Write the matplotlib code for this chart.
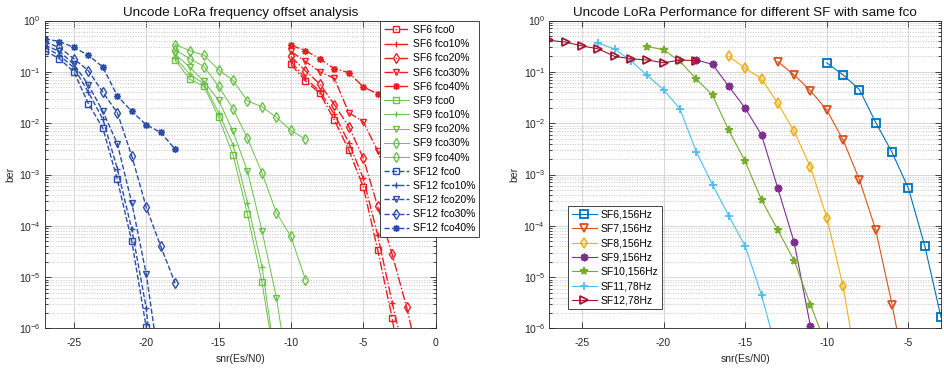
import matplotlib
matplotlib.use('Agg')
import matplotlib.pyplot as plt
from matplotlib.ticker import LogLocator, NullFormatter, FixedLocator

plt.rcParams['font.family'] = ['Liberation Sans', 'DejaVu Sans']
plt.rcParams['mathtext.fontset'] = 'custom'
plt.rcParams['mathtext.rm'] = 'Liberation Sans'
plt.rcParams['axes.unicode_minus'] = False

# ---- left chart: frequency offset analysis ----
snr_sf6_fco0 = [-10, -9, -8, -7, -6, -5, -4, -3, -2]
ber_sf6_fco0 = [0.14, 0.067, 0.038, 0.0116, 0.003, 5.8e-4, 3.4e-5, 1.6e-6, 3e-8]
snr_sf6_fco10 = [-10, -9, -8, -7, -6, -5, -4, -3, -2]
ber_sf6_fco10 = [0.16, 0.075, 0.042, 0.015, 0.0042, 8.5e-4, 6.6e-5, 3.2e-6, 2e-7]
snr_sf6_fco20 = [-10, -9, -8, -7, -6, -5, -4, -3, -2, -1]
ber_sf6_fco20 = [0.2, 0.105, 0.058, 0.023, 0.0086, 0.0021, 2.4e-4, 2.8e-5, 2.6e-6, 1.5e-7]
snr_sf6_fco30 = [-10, -9, -8, -7, -6, -5, -4, -3]
ber_sf6_fco30 = [0.25, 0.16, 0.1, 0.075, 0.016, 0.0107, 0.0029, 4e-4]
snr_sf6_fco40 = [-10, -9, -8, -7, -6, -5, -4, -3, -2]
ber_sf6_fco40 = [0.33, 0.26, 0.18, 0.115, 0.097, 0.051, 0.037, 0.025, 0.016]

snr_sf9_fco0 = [-18, -17, -16, -15, -14, -13, -12, -11]
ber_sf9_fco0 = [0.17, 0.072, 0.052, 0.013, 0.0024, 1.7e-4, 7.9e-6, 1.5e-7]
snr_sf9_fco10 = [-18, -17, -16, -15, -14, -13, -12, -11]
ber_sf9_fco10 = [0.19, 0.09, 0.058, 0.016, 0.0038, 2.8e-4, 1.6e-5, 1.8e-7]
snr_sf9_fco20 = [-18, -17, -16, -15, -14, -13, -12, -11, -10]
ber_sf9_fco20 = [0.22, 0.124, 0.065, 0.028, 0.0069, 1.15e-3, 8e-5, 4e-6, 6e-8]
snr_sf9_fco30 = [-18, -17, -16, -15, -14, -13, -12, -11, -10, -9]
ber_sf9_fco30 = [0.27, 0.18, 0.127, 0.052, 0.019, 0.0051, 1.07e-3, 1.8e-4, 6.2e-5, 9e-6]
snr_sf9_fco40 = [-18, -17, -16, -15, -14, -13, -12, -11, -10, -9]
ber_sf9_fco40 = [0.34, 0.26, 0.21, 0.11, 0.068, 0.027, 0.021, 0.013, 0.0072, 0.0049]

snr_sf12_fco0 = [-27, -26, -25, -24, -23, -22, -21, -20]
ber_sf12_fco0 = [0.26, 0.18, 0.1, 0.024, 0.008, 8e-4, 5e-5, 1.05e-6]
snr_sf12_fco10 = [-27, -26, -25, -24, -23, -22, -21, -20, -19]
ber_sf12_fco10 = [0.3, 0.21, 0.12, 0.04, 0.012, 1.3e-3, 8.5e-5, 2.5e-6, 5e-9]
snr_sf12_fco20 = [-27, -26, -25, -24, -23, -22, -21, -20, -19]
ber_sf12_fco20 = [0.33, 0.25, 0.14, 0.056, 0.017, 0.004, 2.8e-4, 1.15e-5, 1.3e-7]
snr_sf12_fco30 = [-27, -26, -25, -24, -23, -22, -21, -20, -19, -18]
ber_sf12_fco30 = [0.38, 0.3, 0.18, 0.105, 0.04, 0.016, 0.0023, 2.3e-4, 4e-5, 7.6e-6]
snr_sf12_fco40 = [-27, -26, -25, -24, -23, -22, -21, -20, -19, -18]
ber_sf12_fco40 = [0.44, 0.39, 0.30, 0.21, 0.124, 0.034, 0.017, 0.0093, 0.0066, 0.0031]

left_labels = ['SF6 fco0', 'SF6 fco10%', 'SF6 fco20%', 'SF6 fco30%', 'SF6 fco40%',
               'SF9 fco0', 'SF9 fco10%', 'SF9 fco20%', 'SF9 fco30%', 'SF9 fco40%',
               'SF12 fco0', 'SF12 fco10%', 'SF12 fco20%', 'SF12 fco30%', 'SF12 fco40%']

# ---- right chart: different SF with same fco ----
snr_r6 = [-10, -9, -8, -7, -6, -5, -4, -3]
ber_r6 = [0.15, 0.087, 0.045, 0.0103, 0.0027, 5.4e-4, 4.1e-5, 1.65e-6]
snr_r7 = [-13, -12, -11, -10, -9, -8, -7, -6, -5]
ber_r7 = [0.158, 0.087, 0.043, 0.018, 0.0047, 7.9e-4, 8.3e-5, 2.9e-6, 6.6e-8]
snr_r8 = [-16, -15, -14, -13, -12, -11, -10, -9, -8]
ber_r8 = [0.2, 0.118, 0.073, 0.0245, 0.0069, 0.0014, 1.45e-4, 6.6e-6, 9e-8]
snr_r9 = [-18, -17, -16, -15, -14, -13, -12, -11, -10]
ber_r9 = [0.17, 0.14, 0.052, 0.0196, 0.0059, 5.4e-4, 4.8e-5, 1.1e-6, 2.5e-8]
snr_r10 = [-21, -20, -19, -18, -17, -16, -15, -14, -13, -12, -11, -10]
ber_r10 = [0.31, 0.27, 0.16, 0.073, 0.035, 0.0072, 0.0018, 3.2e-4, 8.3e-5, 2.1e-5, 2.9e-6, 4.4e-7]
snr_r11 = [-24, -23, -22, -21, -20, -19, -18, -17, -16, -15, -14, -13]
ber_r11 = [0.36, 0.28, 0.164, 0.085, 0.045, 0.019, 0.0028, 6.3e-4, 1.56e-4, 4e-5, 4.5e-6, 3e-7]
snr_r12 = [-27, -26, -25, -24, -23, -22, -21, -20, -19, -18]
ber_r12 = [0.41, 0.38, 0.32, 0.28, 0.2, 0.18, 0.17, 0.15, 0.17, 0.165]

right_labels = ['SF6,156Hz', 'SF7,156Hz', 'SF8,156Hz', 'SF9,156Hz',
                'SF10,156Hz', 'SF11,78Hz', 'SF12,78Hz']

ber_ticks = [1e-6, 1e-5, 1e-4, 1e-3, 1e-2, 1e-1, 1]

RED = '#ee1d23'
GREEN = '#6cc04a'
BLUE = '#2b4ea6'
ASTERISK = (8, 2, 0)


def style_axes(ax, xlim, xticks):
    ax.set_yscale('log')
    ax.set_xlim(*xlim)
    ax.set_ylim(1e-6, 1)
    ax.xaxis.set_major_locator(FixedLocator(xticks))
    ax.yaxis.set_major_locator(FixedLocator(ber_ticks))
    ax.yaxis.set_minor_locator(LogLocator(base=10, subs=range(2, 10), numticks=10))
    ax.yaxis.set_minor_formatter(NullFormatter())
    ax.grid(which='major', color='#d6d6d6', linestyle='-', linewidth=0.7)
    ax.grid(which='minor', axis='y', color='#c4c4c4', linestyle=':', linewidth=0.7)
    ax.set_axisbelow(True)
    ax.tick_params(which='both', direction='in', top=True, right=True,
                   colors='#262626', labelsize=7.5, width=0.6)
    ax.tick_params(which='major', length=4)
    ax.tick_params(which='minor', length=2)
    ax.tick_params(axis='x', pad=6.5)
    ax.tick_params(axis='y', pad=3)
    for s in ax.spines.values():
        s.set_color('#262626')
        s.set_linewidth(0.6)
    ax.set_xlabel('snr(Es/N0)', fontsize=7.5, labelpad=5, color='#262626')
    ax.set_ylabel('ber', fontsize=7.5, labelpad=3, color='#262626')


fig = plt.figure(figsize=(9.45, 3.69), dpi=100)
ax1 = fig.add_axes([0.0476, 0.1098, 0.4133, 0.8346])
ax2 = fig.add_axes([0.5813, 0.1098, 0.4145, 0.8346])

left_series = [
    (snr_sf6_fco0, ber_sf6_fco0, RED, '-.', 's'),
    (snr_sf6_fco10, ber_sf6_fco10, RED, '-.', '+'),
    (snr_sf6_fco20, ber_sf6_fco20, RED, '-.', 'd'),
    (snr_sf6_fco30, ber_sf6_fco30, RED, '-.', 'v'),
    (snr_sf6_fco40, ber_sf6_fco40, RED, '-.', ASTERISK),
    (snr_sf9_fco0, ber_sf9_fco0, GREEN, '-', 's'),
    (snr_sf9_fco10, ber_sf9_fco10, GREEN, '-', '+'),
    (snr_sf9_fco20, ber_sf9_fco20, GREEN, '-', 'v'),
    (snr_sf9_fco30, ber_sf9_fco30, GREEN, '-', 'd'),
    (snr_sf9_fco40, ber_sf9_fco40, GREEN, '-', 'd'),
    (snr_sf12_fco0, ber_sf12_fco0, BLUE, '--', 's'),
    (snr_sf12_fco10, ber_sf12_fco10, BLUE, '--', '+'),
    (snr_sf12_fco20, ber_sf12_fco20, BLUE, '--', 'v'),
    (snr_sf12_fco30, ber_sf12_fco30, BLUE, '--', 'd'),
    (snr_sf12_fco40, ber_sf12_fco40, BLUE, '--', ASTERISK),
]
for (x, y, c, ls, m), lab in zip(left_series, left_labels):
    lw = 0.7 if ls == '-' else 1.0
    ax1.plot(x, y, color=c, linestyle=ls, linewidth=lw, marker=m, markersize=5,
             markerfacecolor='none', markeredgewidth=1.0, label=lab)

style_axes(ax1, (-27, 0), [-25, -20, -15, -10, -5, 0])
ax1.set_title('Uncode LoRa frequency offset analysis', fontsize=9.7, pad=3, color='#111111')
leg1 = ax1.legend(loc='upper left', bbox_to_anchor=(0.858, 0.997), fontsize=7.5,
                  handlelength=2.4, handletextpad=0.4, borderpad=0.35, labelspacing=0.4,
                  frameon=True, fancybox=False, framealpha=1, borderaxespad=0)
leg1.get_frame().set_edgecolor('#262626')
leg1.get_frame().set_linewidth(0.6)

right_series = [
    (snr_r6, ber_r6, '#0072BD', 's'),
    (snr_r7, ber_r7, '#D95319', 'v'),
    (snr_r8, ber_r8, '#EDB120', 'd'),
    (snr_r9, ber_r9, '#7E2F8E', ASTERISK),
    (snr_r10, ber_r10, '#77AC30', '*'),
    (snr_r11, ber_r11, '#4DBEEE', '+'),
    (snr_r12, ber_r12, '#A2142F', '>'),
]
for (x, y, c, m), lab in zip(right_series, right_labels):
    ax2.plot(x, y, color=c, linewidth=0.8, marker=m, markersize=5.5,
             markerfacecolor='none', markeredgewidth=1.3, label=lab)

style_axes(ax2, (-27, -3), [-25, -20, -15, -10, -5])
ax2.set_title('Uncode LoRa Performance for different SF with same fco', fontsize=9.7, pad=3,
              color='#111111')
leg2 = ax2.legend(loc='lower left', bbox_to_anchor=(0.048, 0.062), fontsize=7.5,
                  handlelength=2.4, handletextpad=0.4, borderpad=0.35, labelspacing=0.42,
                  frameon=True, fancybox=False, framealpha=1, borderaxespad=0)
leg2.get_frame().set_edgecolor('#262626')
leg2.get_frame().set_linewidth(0.6)

fig.savefig('out.png', dpi=100)
